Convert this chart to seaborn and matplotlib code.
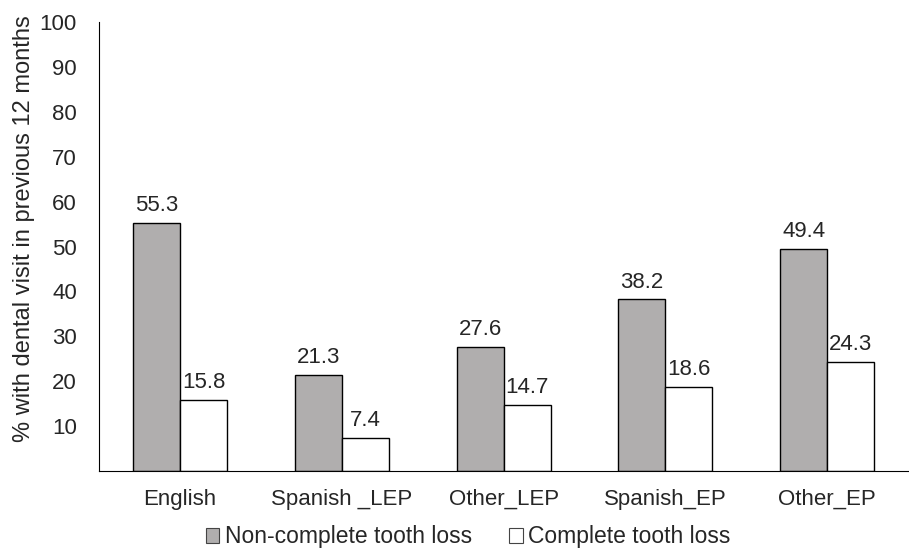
import numpy as np
import pandas as pd
import matplotlib
matplotlib.use('Agg')
import matplotlib.pyplot as plt
import seaborn as sns
from matplotlib.patches import Patch

# values
groups = ['English', 'Spanish _LEP', 'Other_LEP', 'Spanish_EP', 'Other_EP']
non_complete = [55.3, 21.3, 27.6, 38.2, 49.4]
complete = [15.8, 7.4, 14.7, 18.6, 24.3]
series = ['Non-complete tooth loss', 'Complete tooth loss']
yticks = [10, 20, 30, 40, 50, 60, 70, 80, 90, 100]

df = pd.DataFrame({
    'group': groups * 2,
    'value': non_complete + complete,
    'series': [series[0]] * len(groups) + [series[1]] * len(groups),
})

sns.set_style('white')
plt.rcParams['font.family'] = ['Liberation Sans', 'DejaVu Sans']
plt.rcParams['font.size'] = 16

colors = ['#b0aeae', '#ffffff']

fig = plt.figure(figsize=(9.09, 5.54), dpi=100)
ax = fig.add_axes([0.109, 0.150, 0.89, 0.81])

sns.barplot(data=df, x='group', y='value', hue='series', order=groups,
            hue_order=series, palette=colors, edgecolor='black',
            linewidth=1, width=0.58, saturation=1, legend=False, ax=ax)

for cont in ax.containers:
    ax.bar_label(cont, fmt='%.1f', padding=5, fontsize=16)

ax.set_ylim(0, 100)
ax.set_yticks(yticks)
ax.set_xlabel('')
ax.set_ylabel('% with dental visit in previous 12 months', fontsize=17)
ax.yaxis.set_label_coords(-0.079, 0.539)
ax.tick_params(axis='y', length=0, labelsize=16, pad=16)
ax.tick_params(axis='x', length=0, labelsize=16, pad=13)
sns.despine(ax=ax)
ax.spines['left'].set_color('black')
ax.spines['bottom'].set_color('black')

handles = [Patch(facecolor=c, edgecolor='#444444', linewidth=0.8) for c in colors]
fig.legend(handles, series, loc='lower center', bbox_to_anchor=(0.515, -0.027),
           ncol=2, frameon=False, fontsize=16.5, handlelength=0.6,
           handleheight=0.6, handletextpad=0.25, columnspacing=1.6)

fig.savefig('out.png', dpi=100)
